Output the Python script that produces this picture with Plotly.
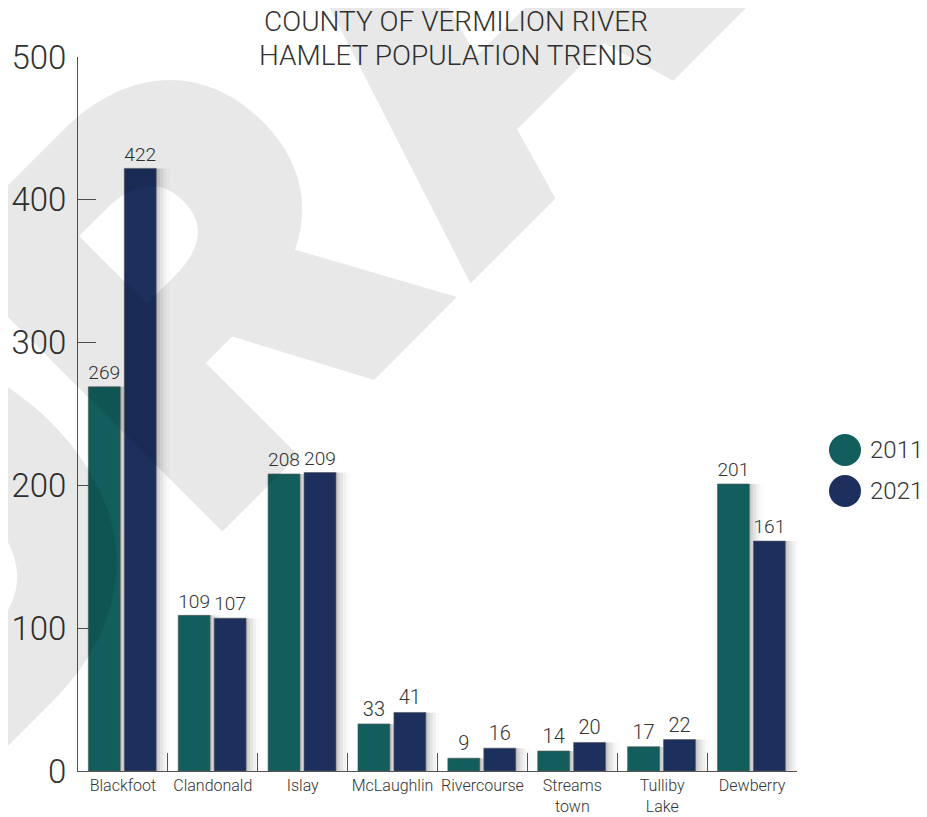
import plotly.graph_objects as go

categories = ["Blackfoot", "Clandonald", "Islay", "McLaughlin", "Rivercourse",
              "Streams<br>town", "Tulliby<br>Lake", "Dewberry"]
pop_2011 = [269, 109, 208, 33, 9, 14, 17, 201]
pop_2021 = [422, 107, 209, 41, 16, 20, 22, 161]
series_names = ["2011", "2021"]
y_ticks = [0, 100, 200, 300, 400, 500]

TEAL = "#115e5c"
NAVY = "#1c2f5d"
FONT = "Roboto"
OX, OY = 8, 8                       # page body margin in the browser
W, H = 927 - OX, 817 - OY
ML, MR, MT, MB = 78 - OX, 130, 57 - OY, 46
PW, PH = W - ML - MR, H - MT - MB
BAR_W = 0.355
OFFS = [-0.385, 0.015]


def px(x):          # screenshot pixel -> paper x
    return (x - OX - ML) / PW


def py(y):          # screenshot pixel -> paper y
    return 1 - (y - OY - MT) / PH


fig = go.Figure()

# soft drop shadows (to the right of each bar)
for shift_px, a in [(2, 0.07), (4, 0.06), (7, 0.05), (10, 0.035), (14, 0.02)]:
    for vals, off in zip([pop_2011, pop_2021], OFFS):
        fig.add_trace(go.Bar(
            x=categories, y=vals, width=BAR_W, offset=off + shift_px / 90,
            marker=dict(color=f"rgba(0,0,0,{a})", line=dict(width=0)),
            showlegend=False, hoverinfo="skip"))

for vals, color, name, off in zip([pop_2011, pop_2021], [TEAL, NAVY], series_names, OFFS):
    fig.add_trace(go.Bar(
        x=categories, y=vals, name=name, width=BAR_W, offset=off,
        marker=dict(color=color, line=dict(width=1, color="rgba(90,90,90,0.6)")),
        text=[str(v) for v in vals], textposition="outside", cliponaxis=False,
        textfont=dict(family=FONT, size=20, color="#333", weight=300),
        showlegend=False))

fig.update_layout(
    width=W, height=H,
    barmode="overlay",
    paper_bgcolor="white", plot_bgcolor="rgba(0,0,0,0)",
    margin=dict(l=ML, r=MR, t=MT, b=MB, autoexpand=False),
    font=dict(family=FONT, color="#333"),
    showlegend=False,
)

fig.update_yaxes(range=[0, 500], tickvals=y_ticks, showgrid=False, zeroline=False,
                 showline=True, linecolor="#555", linewidth=1,
                 ticks="inside", ticklen=18, tickcolor="#555", layer="below traces",
                 tickfont=dict(family=FONT, size=33, color="#333", weight=300),
                 ticklabelstandoff=4)
fig.update_xaxes(showgrid=False, showline=True, linecolor="#555", linewidth=1,
                 ticks="inside", ticklen=18, tickcolor="#555", tickson="boundaries",
                 layer="below traces", tickangle=0,
                 tickfont=dict(family=FONT, size=16, color="#333", weight=300),
                 range=[-0.5, 7.5])

# title (two lines)
for txt, yc in [("COUNTY OF VERMILION RIVER", 22), ("HAMLET POPULATION TRENDS", 55)]:
    fig.add_annotation(text=txt, xref="paper", yref="paper", x=px(456), y=py(yc),
                       xanchor="center", yanchor="middle", showarrow=False,
                       font=dict(family=FONT, size=28, color="#333", weight=300))

# legend (circles + labels)
for i, (name, color) in enumerate(zip(series_names, [TEAL, NAVY])):
    cy = 450 + 41 * i
    fig.add_shape(type="circle", xref="paper", yref="paper",
                  x0=px(829), x1=px(861), y0=py(cy + 16), y1=py(cy - 16),
                  fillcolor=color, line=dict(width=0))
    fig.add_annotation(text=name, xref="paper", yref="paper",
                       x=px(868), y=py(cy), xanchor="left", yanchor="middle",
                       showarrow=False,
                       font=dict(family=FONT, size=24, color="#333", weight=300))

# DRAFT watermark
fig.add_annotation(text="DRAFT", xref="paper", yref="paper",
                   x=px(452), y=py(22), showarrow=False, textangle=-45,
                   xanchor="center", yanchor="middle",
                   font=dict(family="Inter", size=545, color="rgba(0,0,0,0.09)",
                             weight=900))

fig.write_html("out.html")
